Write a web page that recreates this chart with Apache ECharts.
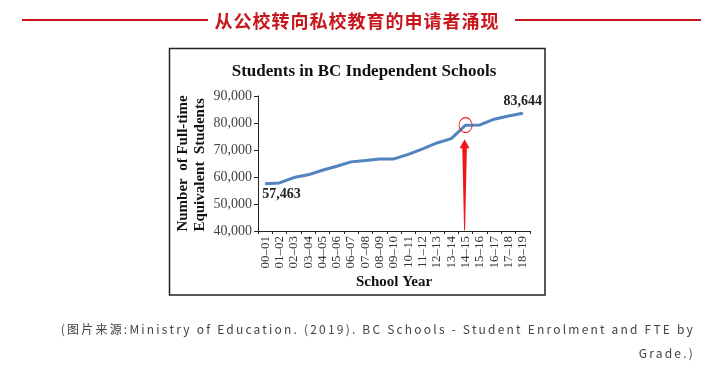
<!DOCTYPE html>
<html>
<head>
<meta charset="utf-8">
<script src="https://cdn.jsdelivr.net/npm/echarts@6/dist/echarts.min.js"></script>
<style>
html,body{margin:0;padding:0;background:#fff;}
#wrap{position:relative;width:714px;height:370px;overflow:hidden;}
#chart{position:absolute;left:0;top:0;width:714px;height:370px;}
.hline{position:absolute;top:19px;height:1.5px;background:#c8161d;}
#head{position:absolute;left:0;width:714px;top:8px;text-align:center;font-family:"Noto Sans CJK SC";font-weight:bold;font-size:18px;letter-spacing:1px;color:#c8161d;line-height:24px;}
.foot{position:absolute;right:19px;font-family:"Noto Sans CJK SC";font-size:12px;letter-spacing:2.2px;color:#444;line-height:18px;white-space:nowrap;text-align:right;}
</style>
</head>
<body>
<div id="wrap">
<div id="chart"></div>
<div class="hline" style="left:22px;width:186px;"></div>
<div class="hline" style="left:515px;width:186px;"></div>
<div id="head">从公校转向私校教育的申请者涌现</div>
<div class="foot" style="top:320px;">(图片来源:Ministry of Education. (2019). BC Schools - Student Enrolment and FTE by</div>
<div class="foot" style="top:344px;">Grade.)</div>
</div>
<script>
var chartTitle = 'Students in BC Independent Schools';
var yAxisNameLines = ['Number  of Full-time', 'Equivalent  Students'];
var xAxisName = 'School Year';
var years = ['00–01','01–02','02–03','03–04','04–05','05–06','06–07','07–08','08–09','09–10',
             '10–11','11–12','12–13','13–14','14–15','15–16','16–17','17–18','18–19'];
var students = [57463, 57800, 59800, 60800, 62500, 64000, 65600, 66100, 66700, 66700,
                68400, 70400, 72600, 74200, 79200, 79300, 81400, 82600, 83644];
var yTicks = [40000, 50000, 60000, 70000, 80000, 90000];
var highlightYear = '14–15';
var arrowFrom = 40300, arrowTo = 74000;

var chart = echarts.init(document.getElementById('chart'));
var serif = 'Liberation Serif';
var lastIdx = students.length - 1;
var option = {
  animation: false,
  backgroundColor: '#fff',
  title: {
    text: chartTitle, left: 359, top: 58, textAlign: 'center',
    textStyle: {fontFamily: serif, fontWeight: 'bold', fontSize: 17, color: '#111'}
  },
  grid: {left: 258, right: 184, top: 96, bottom: 139},
  xAxis: {
    type: 'category', data: years, boundaryGap: true,
    name: xAxisName, nameLocation: 'middle', nameGap: 44,
    nameTextStyle: {fontFamily: serif, fontWeight: 'bold', fontSize: 15, color: '#111'},
    axisLine: {lineStyle: {color: '#222', width: 1}},
    axisTick: {show: true, interval: 0, length: 3, lineStyle: {color: '#222'}},
    axisLabel: {interval: 0, rotate: 90, margin: 5, fontFamily: serif, fontSize: 13, color: '#333'}
  },
  yAxis: {
    type: 'value', min: yTicks[0], max: yTicks[yTicks.length - 1], interval: 10000,
    name: yAxisNameLines.map(function (s) { return '{a|' + s + '}'; }).join('\n'),
    nameLocation: 'middle', nameRotate: 90, nameGap: 49,
    nameTextStyle: {
      fontFamily: serif, fontWeight: 'bold', fontSize: 15, color: '#111', lineHeight: 17, align: 'center',
      rich: {a: {fontFamily: serif, fontWeight: 'bold', fontSize: 15, color: '#111', lineHeight: 17, align: 'left'}}
    },
    axisLine: {show: true, lineStyle: {color: '#222', width: 1}},
    axisTick: {show: true, length: 4, lineStyle: {color: '#222'}},
    splitLine: {show: false},
    axisLabel: {margin: 6, fontFamily: serif, fontSize: 14, color: '#444',
      formatter: function (v) { return v.toLocaleString('en-US'); }}
  },
  series: [{
    type: 'line', data: students.map(function (v, i) {
      var d = {value: v};
      if (i === 0) d.label = {show: true, position: 'bottom', align: 'left', offset: [-3, 0], distance: 3};
      if (i === lastIdx) d.label = {show: true, position: 'top', distance: 4};
      return d;
    }),
    symbol: 'circle', symbolSize: 1, showSymbol: true, smooth: false,
    itemStyle: {color: '#5282bf'},
    lineStyle: {color: '#5282bf', width: 3},
    label: {show: false, fontFamily: serif, fontWeight: 'bold', fontSize: 14, color: '#222',
      formatter: function (p) { return p.value.toLocaleString('en-US'); }},
    markPoint: {
      silent: true,
      symbol: 'circle', symbolSize: [13, 15],
      itemStyle: {color: 'rgba(0,0,0,0)', borderColor: '#e8232a', borderWidth: 1},
      label: {show: false},
      data: [{coord: [highlightYear, students[years.indexOf(highlightYear)]]}]
    }
  }],
  graphic: [{
    type: 'rect', shape: {x: 169.5, y: 48.5, width: 375.5, height: 246.5},
    style: {fill: 'none', stroke: '#222', lineWidth: 1.5}, silent: true
  }]
};
chart.setOption(option);

// arrow annotation placed from data coordinates
var tip = chart.convertToPixel({gridIndex: 0}, [highlightYear, arrowTo]);
var base = chart.convertToPixel({gridIndex: 0}, [highlightYear, arrowFrom]);
var cx = tip[0] - 1;
var headH = 9, headW = 5, shaftW = 2.3;
chart.setOption({
  graphic: [option.graphic[0], {
    type: 'polygon', silent: true,
    shape: {points: [
      [cx, tip[1]], [cx + headW, tip[1] + headH], [cx + shaftW, tip[1] + headH],
      [cx + 0.5, base[1]], [cx - 0.5, base[1]], [cx - shaftW, tip[1] + headH], [cx - headW, tip[1] + headH]
    ]},
    style: {fill: '#f0161b'}
  }]
});
</script>
</body>
</html>
